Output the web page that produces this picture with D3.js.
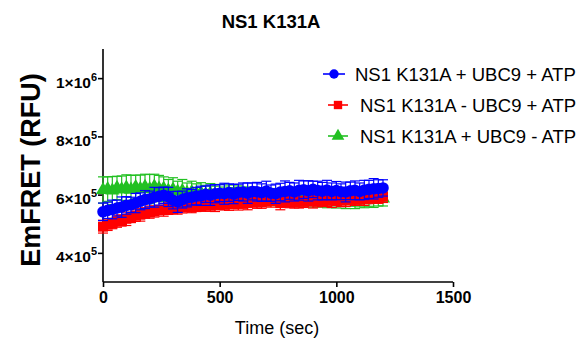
<!DOCTYPE html>
<html>
<head>
<meta charset="utf-8">
<script src="https://cdn.jsdelivr.net/npm/d3@7"></script>
<style>
  html, body { margin: 0; padding: 0; background: #fff; }
  svg { display: block; font-family: "Liberation Sans", Arial, sans-serif; }
</style>
</head>
<body>
<svg id="chart" width="582" height="343"></svg>
<script>
// ---- data ----
const chartTitle = "NS1 K131A";
const xTitle = "Time (sec)";
const yTitle = "EmFRET (RFU)";
const xTicks = [0, 500, 1000, 1500];
const yTicks = [400000, 600000, 800000, 1000000];
const seriesNames = ["NS1 K131A + UBC9 + ATP", "NS1 K131A - UBC9 + ATP", "NS1 K131A + UBC9 - ATP"];

const times = [0,20,40,60,80,100,120,140,160,180,200,220,240,260,280,300,320,340,360,380,
  400,420,440,460,480,500,520,540,560,580,600,620,640,660,680,700,720,740,760,780,
  800,820,840,860,880,900,920,940,960,980,1000,1020,1040,1060,1080,1100,1120,1140,1160,1180,1200];

// values in thousands of RFU
const blueVals = [541,546,549,554,557,563,565,571,577,583,585,591,594,598,592,581,575,583,589,591,
  595,596,601,598,603,605,603,607,602,608,609,605,611,610,607,612,605,603,609,611,
  613,609,615,617,613,618,614,612,616,611,614,610,609,613,615,611,616,618,620,621,623];
const blueErr = [30,28,32,27,35,30,26,33,29,31,27,34,30,28,33,30,36,29,31,27,
  30,33,28,35,31,29,36,30,33,28,31,35,29,32,30,34,28,33,30,36,
  29,31,34,30,35,28,32,30,33,29,31,27,34,30,32,29,33,31,35,30,28];

const redVals = [490,497,501,509,511,517,521,528,531,537,540,542,547,548,552,553,556,556,559,559,
  562,561,565,562,566,565,568,567,570,569,572,571,575,574,573,578,579,582,571,575,
  576,574,578,575,579,576,578,578,580,579,582,579,581,583,584,586,586,589,590,591,593];
const redErr = [22,20,18,21,19,23,17,20,22,18,21,19,16,22,20,18,23,19,17,21,
  20,18,22,19,24,17,20,21,18,22,19,23,18,21,20,17,22,19,23,18,
  21,20,24,19,17,22,20,18,21,23,19,20,22,18,21,19,23,20,18,21,20];

const greenVals = [616,619,614,623,618,624,617,626,620,627,619,628,621,621,614,617,610,613,606,609,
  604,606,601,604,599,602,597,601,596,599,595,598,593,597,592,595,591,594,589,593,
  588,591,587,590,585,589,584,587,583,586,581,585,580,584,579,583,581,584,583,586,587];
const greenErr = [45,42,48,40,46,44,49,41,47,43,50,42,45,40,38,41,36,39,34,37,
  33,35,31,34,30,33,29,32,28,31,30,28,31,27,30,28,29,27,30,26,
  28,27,29,26,28,25,27,26,28,25,27,26,28,24,27,25,26,24,27,25,26];

const colors = ["#0000ff", "#ff0000", "#22c022"];
const shapes = [d3.symbolCircle, d3.symbolSquare, d3.symbolTriangle];

// ---- drawing ----
const svg = d3.select("#chart");
const x = d3.scaleLinear().domain([0, 1500]).range([103, 453]);
const y = d3.scaleLinear().domain([300000, 1100000]).range([282, 49]);

// title
svg.append("text").attr("x", 271).attr("y", 28).attr("text-anchor", "middle")
  .attr("font-size", 18.5).attr("font-weight", "bold").text(chartTitle);

// axes
const axisColor = "#000";
svg.append("line").attr("x1", x(0)).attr("x2", x(0)).attr("y1", y(1100000)).attr("y2", y(300000))
  .attr("stroke", axisColor).attr("stroke-width", 1.6);
svg.append("line").attr("x1", x(0)).attr("x2", x(1500)).attr("y1", y(300000)).attr("y2", y(300000))
  .attr("stroke", axisColor).attr("stroke-width", 1.6);

const xAxis = svg.append("g").attr("transform", `translate(0,${y(300000)})`)
  .call(d3.axisBottom(x).tickValues(xTicks).tickSize(5).tickSizeOuter(0).tickFormat(d3.format("d")));
xAxis.select(".domain").remove();
xAxis.selectAll(".tick line").attr("stroke", axisColor).attr("stroke-width", 1.6);
xAxis.selectAll(".tick text").attr("font-family", "Liberation Sans, Arial, sans-serif")
  .attr("font-size", 16).attr("font-weight", "bold").attr("fill", "#000").attr("dy", "0.75em").attr("y", 9);

const yAxis = svg.append("g").attr("transform", `translate(${x(0)},0)`)
  .call(d3.axisLeft(y).tickValues(yTicks).tickSize(5).tickSizeOuter(0).tickFormat(""));
yAxis.select(".domain").remove();
yAxis.selectAll(".tick line").attr("stroke", axisColor).attr("stroke-width", 1.6);
yAxis.selectAll(".tick").each(function(d) {
  const exp = Math.floor(Math.log10(d));
  const mant = Math.round(d / Math.pow(10, exp));
  const t = d3.select(this).select("text")
    .attr("x", -6).attr("dy", null).attr("y", 9)
    .attr("font-family", "Liberation Sans, Arial, sans-serif")
    .attr("font-size", 15.5).attr("font-weight", "bold").attr("fill", "#000").attr("text-anchor", "end");
  t.text(null);
  t.append("tspan").text(mant + "×10");
  t.append("tspan").attr("dy", -7).attr("font-size", 11).text(exp);
});

// axis titles
svg.append("text").attr("transform", "translate(40,170) rotate(-90)").attr("text-anchor", "middle")
  .attr("font-size", 27).attr("font-weight", "bold").text(yTitle);
svg.append("text").attr("x", 277).attr("y", 334).attr("text-anchor", "middle")
  .attr("font-size", 18).text(xTitle);

// series
const series = [
  { vals: blueVals, err: blueErr, color: colors[0], shape: shapes[0], size: 105 },
  { vals: redVals, err: redErr, color: colors[1], shape: shapes[1], size: 100 },
  { vals: greenVals, err: greenErr, color: colors[2], shape: shapes[2], size: 85 }
];
const drawOrder = [2, 1, 0];
const cap = 5;
drawOrder.forEach(i => {
  const s = series[i];
  const g = svg.append("g");
  const pts = times.map((t, k) => ({ t, v: s.vals[k] * 1000, e: s.err[k] * 1000 }));
  const eb = g.append("g").attr("stroke", s.color).attr("stroke-width", 1.2);
  pts.forEach(p => {
    eb.append("line").attr("x1", x(p.t)).attr("x2", x(p.t)).attr("y1", y(p.v - p.e)).attr("y2", y(p.v + p.e));
    eb.append("line").attr("x1", x(p.t) - cap).attr("x2", x(p.t) + cap).attr("y1", y(p.v + p.e)).attr("y2", y(p.v + p.e));
    eb.append("line").attr("x1", x(p.t) - cap).attr("x2", x(p.t) + cap).attr("y1", y(p.v - p.e)).attr("y2", y(p.v - p.e));
  });
  g.append("path").datum(pts).attr("fill", "none").attr("stroke", s.color).attr("stroke-width", 1)
    .attr("d", d3.line().x(p => x(p.t)).y(p => y(p.v)));
  g.selectAll("path.sym").data(pts).join("path").attr("class", "sym")
    .attr("transform", p => `translate(${x(p.t)},${y(p.v)})`)
    .attr("d", d3.symbol().type(s.shape).size(s.size)).attr("fill", s.color);
});

// legend
const legendRows = [
  { y: 74, lx1: 323, lx2: 345, tx: 355 },
  { y: 105, lx1: 328, lx2: 348, tx: 360 },
  { y: 136, lx1: 328, lx2: 348, tx: 360 }
];
legendRows.forEach((r, i) => {
  const g = svg.append("g");
  g.append("line").attr("x1", r.lx1).attr("x2", r.lx2).attr("y1", r.y).attr("y2", r.y)
    .attr("stroke", colors[i]).attr("stroke-width", 1.6);
  g.append("path").attr("transform", `translate(${(r.lx1 + r.lx2) / 2},${r.y})`)
    .attr("d", d3.symbol().type(shapes[i]).size(70)).attr("fill", colors[i]);
  g.append("text").attr("x", r.tx).attr("y", r.y + 6.5).attr("font-size", 18.5).text(seriesNames[i]);
});
</script>
</body>
</html>
